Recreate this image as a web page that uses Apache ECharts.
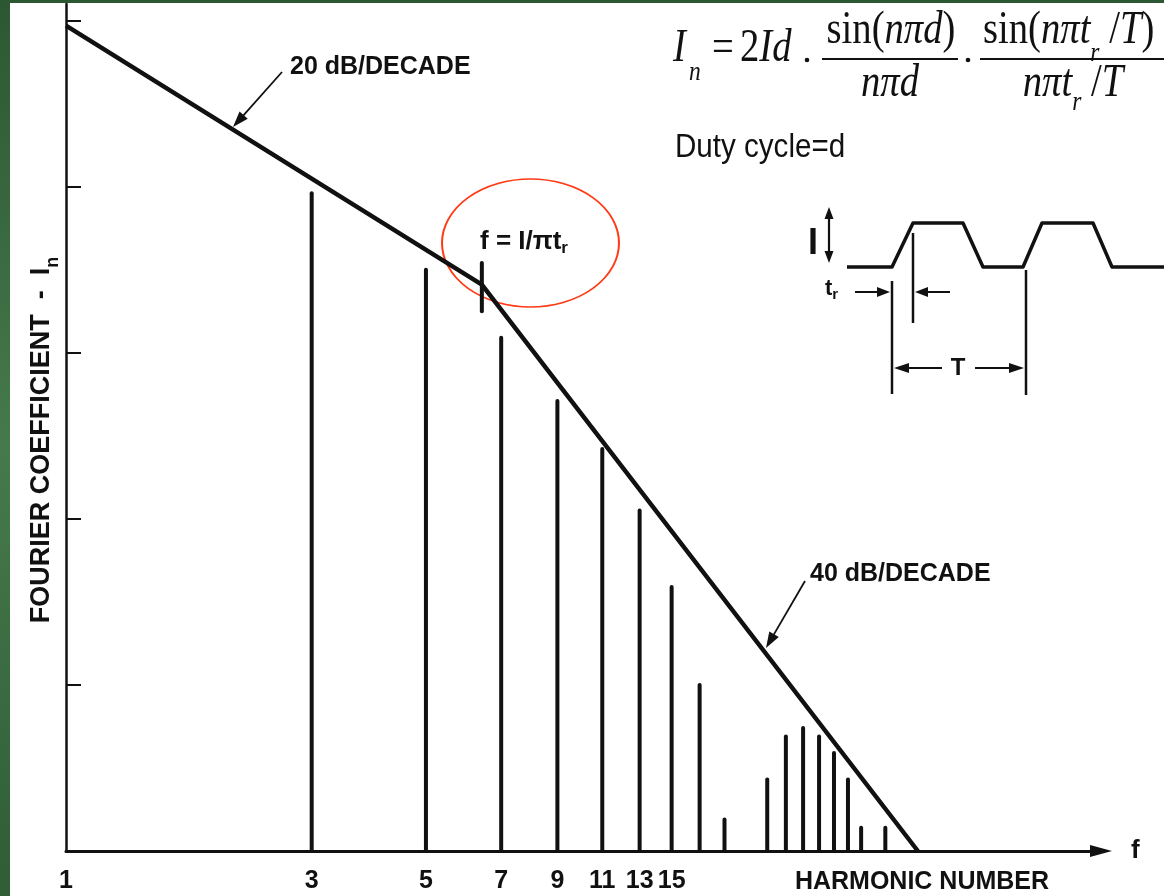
<!DOCTYPE html>
<html>
<head>
<meta charset="utf-8">
<script src="https://cdn.jsdelivr.net/npm/echarts@6/dist/echarts.min.js"></script>
<style>
html,body{margin:0;padding:0;background:#3b6942;}
#c{width:1164px;height:896px;}
</style>
</head>
<body>
<div id="c"></div>
<script>
// ---- data (levels in dB relative to the top tick) ----
const harmonics   = [3, 5, 7, 9, 11, 13, 15, 17, 19, 23, 25, 27, 29, 31, 33, 35, 39];
const levelsDb    = [-10.4, -15.0, -19.1, -22.9, -25.8, -29.5, -34.1, -40.0, -48.1,
                     -45.7, -43.1, -42.6, -43.1, -44.1, -45.7, -48.6, -48.6];
const envelopeN   = [1, 6.42, 45.1];
const envelopeDb  = [-0.3, -15.9, -50];
const cornerN     = [6.42, 6.42];
const cornerDb    = [-14.6, -17.5];
const xTickLabels = [1, 3, 5, 7, 9, 11, 13, 15];
const yTickValues = [-50, -40, -30, -20, -10, 0];

const INK = '#111';
const SANS = "'Liberation Sans', Arial, sans-serif";
const SERIF = "'Liberation Serif', 'Times New Roman', serif";

function arrow(x1, y1, x2, y2, w, len, hw) {
  const dx = x2 - x1, dy = y2 - y1, L = Math.hypot(dx, dy);
  const ux = dx / L, uy = dy / L;
  const bx = x2 - ux * len, by = y2 - uy * len;
  const px = -uy * hw, py = ux * hw;
  return [
    {type: 'line', shape: {x1: x1, y1: y1, x2: bx + ux * 2, y2: by + uy * 2}, style: {stroke: INK, lineWidth: w}},
    {type: 'polygon', shape: {points: [[x2, y2], [bx + px, by + py], [bx - px, by - py]]}, style: {fill: INK}}
  ];
}
function vline(x, y1, y2, w) {
  return {type: 'line', shape: {x1: x, y1: y1, x2: x, y2: y2}, style: {stroke: INK, lineWidth: w || 2.5}};
}
function text(str, x, y, font, align, extra) {
  return Object.assign({
    type: 'text', x: x, y: y,
    style: {text: str, font: font, fill: INK, align: align || 'center', verticalAlign: 'middle'}
  }, extra || {});
}

// formula runs: measured with canvas so subscripts sit right after their base
const SX = 0.84;
const MAIN_R = `46px ${SERIF}`, MAIN_I = `italic 46px ${SERIF}`, SUB_I = `italic 28px ${SERIF}`;
const mctx = document.createElement('canvas').getContext('2d');
function measure(t, font) { mctx.font = font; return mctx.measureText(t).width * SX; }
function runs(list, x, y, align) {
  const total = list.reduce((s, r) => s + measure(r[0], r[1]), 0);
  let cx = align === 'center' ? x - total / 2 : x;
  const out = [];
  list.forEach(r => {
    out.push(text(r[0], cx, y + (r[2] || 0), r[1], 'left', {scaleX: SX}));
    cx += measure(r[0], r[1]);
  });
  return out;
}

const graphics = [
  // white page over green slide background
  {type: 'rect', z: -100, shape: {x: 10, y: 3, width: 1160, height: 900}, style: {fill: '#ffffff'}},

  // slope annotations
  text('20 dB/DECADE', 290, 67, `bold 25px ${SANS}`, 'left'),
  ...arrow(282, 72, 233, 127, 1.8, 16, 5.5),
  text('40 dB/DECADE', 810, 574, `bold 25px ${SANS}`, 'left'),
  ...arrow(805, 581, 766, 648, 1.8, 16, 5.5),

  // corner frequency label and red highlight
  {type: 'text', x: 480, y: 242, style: {
    text: '{a|f = I/πt}{s|r}', align: 'left', verticalAlign: 'middle',
    rich: {a: {fontFamily: SANS, fontWeight: 'bold', fontSize: 26, lineHeight: 30, fill: INK},
           s: {fontFamily: SANS, fontWeight: 'bold', fontSize: 17, lineHeight: 16, verticalAlign: 'bottom', fill: INK}}}},
  {type: 'circle', x: 530.5, y: 243, scaleY: 64 / 88.5, shape: {cx: 0, cy: 0, r: 88.5},
   style: {fill: 'none', stroke: '#ff3a14', lineWidth: 2, strokeNoScale: true}},

  // y-axis title
  {type: 'text', x: 42, y: 440, rotation: Math.PI / 2, style: {
    text: '{a|FOURIER COEFFICIENT  -  I}{s|n}', align: 'center', verticalAlign: 'middle',
    rich: {a: {fontFamily: SANS, fontWeight: 'bold', fontSize: 27, lineHeight: 40, fill: INK},
           s: {fontFamily: SANS, fontWeight: 'bold', fontSize: 18, lineHeight: 24, verticalAlign: 'bottom', fill: INK}}}},

  // x-axis title
  text('HARMONIC NUMBER', 922, 882, `bold 25px ${SANS}`, 'center'),

  // formula
  text('I', 673, 49.4, MAIN_I, 'left', {scaleX: SX}),
  text('n', 689, 72.5, SUB_I, 'left', {scaleX: SX}),
  text('=', 723, 49.4, MAIN_R, 'center', {scaleX: SX}),
  ...runs([['2', MAIN_R], ['Id', MAIN_I]], 740, 49.4, 'left'),
  {type: 'circle', shape: {cx: 807, cy: 60, r: 2.3}, style: {fill: INK}},
  {type: 'circle', shape: {cx: 968, cy: 60, r: 2.3}, style: {fill: INK}},
  {type: 'line', shape: {x1: 822, y1: 59, x2: 958, y2: 59}, style: {stroke: INK, lineWidth: 2}},
  {type: 'line', shape: {x1: 980, y1: 59, x2: 1170, y2: 59}, style: {stroke: INK, lineWidth: 2}},
  ...runs([['sin(', MAIN_R], ['nπd', MAIN_I], [')', MAIN_R]], 891, 31.4, 'center'),
  ...runs([['nπd', MAIN_I]], 890, 84.4, 'center'),
  ...runs([['sin(', MAIN_R], ['nπt', MAIN_I], ['r', SUB_I, 22], [' /', MAIN_R], ['T', MAIN_I], [')', MAIN_R]], 983, 31.4, 'left'),
  ...runs([['nπt', MAIN_I], ['r', SUB_I, 18], [' /', MAIN_R], ['T', MAIN_I]], 1073, 84.4, 'center'),
  text('Duty cycle=d', 675, 148, `34px ${SANS}`, 'left', {scaleX: 0.87}),

  // waveform inset
  {type: 'polyline', shape: {points: [[847, 267], [892, 267], [913, 223], [963, 223], [983, 267], [1023, 267],
                                      [1042, 223], [1093, 223], [1112, 267], [1170, 267]]},
   style: {stroke: INK, lineWidth: 3.5, fill: 'none', lineJoin: 'round'}},
  text('I', 813, 244, `bold 36px ${SANS}`, 'center'),
  ...arrow(829, 235, 829, 207, 2.2, 12, 4.5),
  ...arrow(829, 235, 829, 263, 2.2, 12, 4.5),
  {type: 'text', x: 825, y: 289, style: {
    text: '{a|t}{s|r}', align: 'left', verticalAlign: 'middle',
    rich: {a: {fontFamily: SANS, fontWeight: 'bold', fontSize: 22, lineHeight: 26, fill: INK},
           s: {fontFamily: SANS, fontWeight: 'bold', fontSize: 15, lineHeight: 14, verticalAlign: 'bottom', fill: INK}}}},
  ...arrow(855, 292, 890, 292, 2, 13, 5),
  ...arrow(950, 292, 915, 292, 2, 13, 5),
  vline(892, 281, 394),
  vline(913, 233, 323),
  vline(1026, 270, 395),
  ...arrow(942, 368, 894, 368, 2, 15, 5),
  ...arrow(975, 368, 1024, 368, 2, 15, 5),
  text('T', 958, 368, `bold 24px ${SANS}`, 'center')
];

const chart = echarts.init(document.getElementById('c'));
chart.setOption({
  animation: false,
  backgroundColor: {type: 'linear', x: 0, y: 0, x2: 0, y2: 1,
    colorStops: [{offset: 0, color: '#2c5732'}, {offset: 0.5, color: '#467a4c'}, {offset: 1, color: '#2f5d36'}]},
  grid: {left: 66, right: 63, top: 4, bottom: 45, outerBoundsMode: 'none', containLabel: false},
  xAxis: {
    type: 'log', logBase: 10, min: 1, max: 102.3,
    name: 'f', nameLocation: 'end', nameGap: 30,
    nameTextStyle: {fontFamily: SANS, fontWeight: 'bold', fontSize: 26, color: INK},
    axisLine: {show: true, onZero: false, symbol: ['none', 'triangle'], symbolSize: [12, 22],
               lineStyle: {color: INK, width: 3}},
    axisTick: {show: false},
    splitLine: {show: false},
    minorTick: {show: false},
    axisLabel: {show: true, customValues: xTickLabels, margin: 18,
                fontFamily: SANS, fontWeight: 'bold', fontSize: 25, color: INK,
                formatter: v => String(Math.round(v))}
  },
  yAxis: {
    type: 'value', min: -50, max: 1,
    axisLine: {show: true, onZero: false, lineStyle: {color: INK, width: 2.5}},
    axisTick: {show: true, inside: true, length: 15, customValues: yTickValues,
               lineStyle: {color: INK, width: 2}},
    axisLabel: {show: false},
    splitLine: {show: false}
  },
  graphic: graphics,
  series: [
    {
      type: 'custom', clip: false, z: 3,
      data: harmonics.map((h, i) => [h, levelsDb[i]]),
      renderItem: (params, api) => {
        const top = api.coord([api.value(0), api.value(1)]);
        const base = api.coord([api.value(0), -50]);
        return {type: 'line', shape: {x1: top[0], y1: top[1], x2: base[0], y2: base[1]},
                style: {stroke: INK, lineWidth: 4, lineCap: 'round'}};
      }
    },
    {
      type: 'line', showSymbol: false, symbol: 'none', z: 4,
      data: envelopeN.map((n, i) => [n, envelopeDb[i]]),
      lineStyle: {color: INK, width: 4.5}
    },
    {
      type: 'line', showSymbol: false, symbol: 'none', z: 4,
      data: cornerN.map((n, i) => [n, cornerDb[i]]),
      lineStyle: {color: INK, width: 4, cap: 'round'}
    }
  ]
});
</script>
</body>
</html>
